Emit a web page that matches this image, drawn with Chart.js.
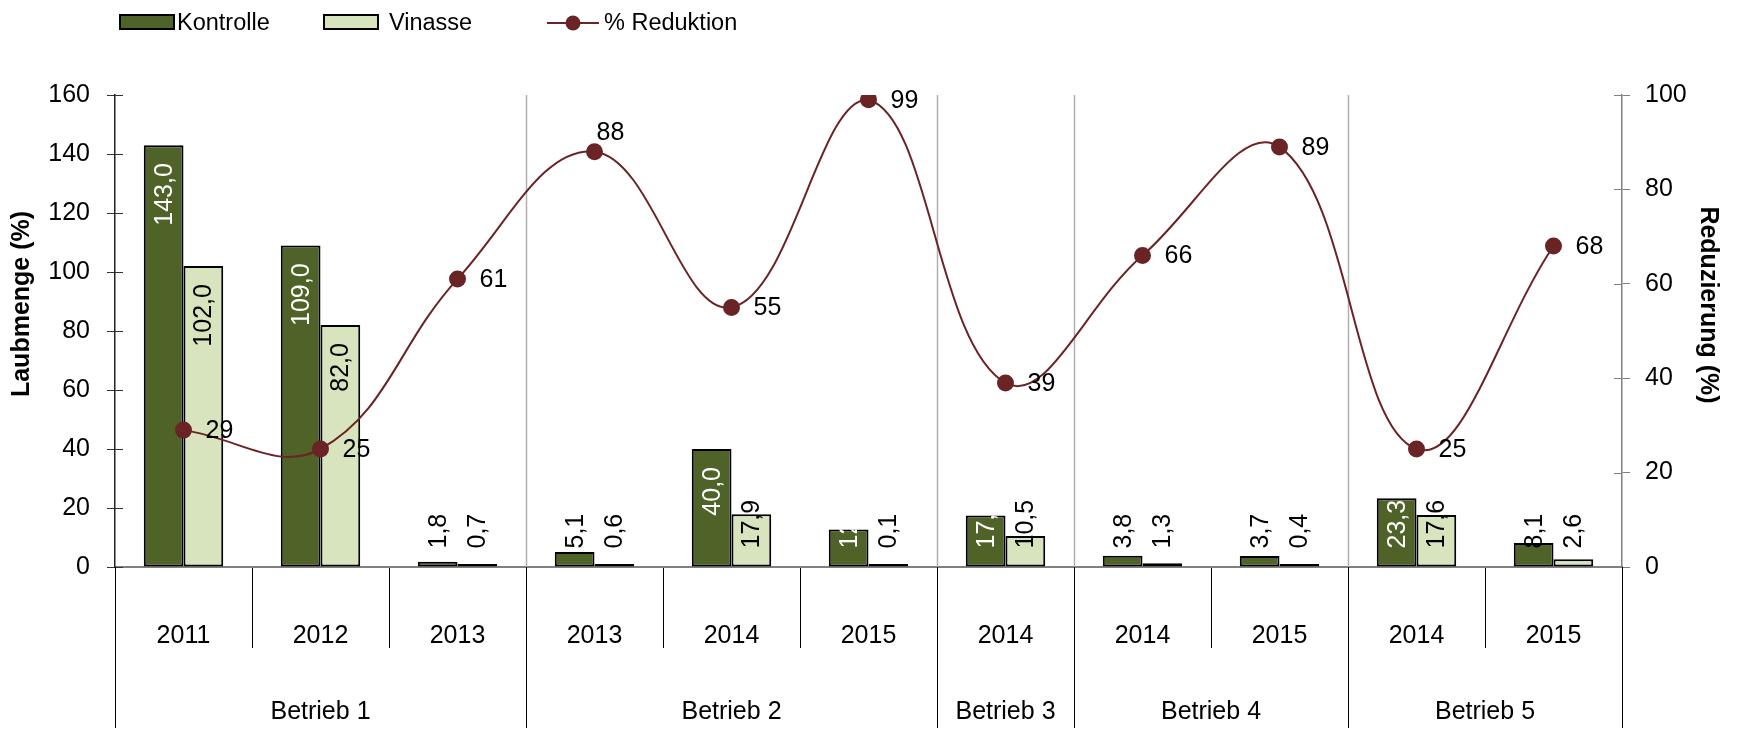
<!DOCTYPE html>
<html><head><meta charset="utf-8">
<script src="https://cdn.jsdelivr.net/npm/chart.js@4"></script>
<style>html,body{margin:0;padding:0;background:#fff}#wrap{width:1739px;height:735px}</style>
</head><body><div id="wrap"><canvas id="c" width="1739" height="735"></canvas></div>
<script>
const years = ['2011','2012','2013','2013','2014','2015','2014','2014','2015','2014','2015'];
const betriebe = ['Betrieb 1','Betrieb 2','Betrieb 3','Betrieb 4','Betrieb 5'];
const betriebSizes = [3,3,1,2,2];
const kontrolle = [143.0,109.0,1.8,5.1,40.0,12.7,17.5,3.8,3.7,23.3,8.1];
const vinasse = [102.0,82.0,0.7,0.6,17.9,0.1,10.5,1.3,0.4,17.6,2.6];
const reduktion = [29,25,61,88,55,99,39,66,89,25,68];
const leftTitle = 'Laubmenge (%)';
const rightTitle = 'Reduzierung (%)';

const FONT = '"Liberation Sans", Arial, sans-serif';
const C_K = '#4F6228', C_V = '#D7E4BD', C_L = '#6B2426';
const FS = 25;
Chart.defaults.font.family = FONT;
Chart.defaults.font.size = FS;
Chart.defaults.color = '#000';

const labelAbove = [3];

const deco = {
  id: 'deco',
  beforeDatasetsDraw(chart) {
    const {ctx, chartArea: a, scales: {x}} = chart;
    ctx.save();
    ctx.strokeStyle = '#b0b0b0'; ctx.lineWidth = 1.5;
    let idx = 0;
    for (let g = 0; g < betriebSizes.length - 1; g++) {
      idx += betriebSizes[g];
      const px = Math.round((x.getPixelForValue(idx - 1) + x.getPixelForValue(idx)) / 2) + 0.5;
      ctx.beginPath(); ctx.moveTo(px, a.top); ctx.lineTo(px, a.bottom); ctx.stroke();
    }
    ctx.restore();
  },
  afterDatasetsDraw(chart) {
    const {ctx} = chart;
    ctx.save();
    ctx.font = `${FS}px ${FONT}`;
    [0, 1].forEach(di => {
      const meta = chart.getDatasetMeta(di);
      const vals = chart.data.datasets[di].data;
      meta.data.forEach((bar, i) => {
        const v = vals[i];
        const txt = v.toFixed(1).replace('.', ',');
        const tw = ctx.measureText(txt).width;
        const top = bar.y, base = bar.base;
        const textTop = Math.min(top + 18, base - 18 - tw);
        const white = di === 0 && v >= 10;
        ctx.save();
        if (white) {
          ctx.beginPath();
          ctx.rect(bar.x - bar.width / 2, top, bar.width, base - top);
          ctx.clip();
        }
        ctx.translate(bar.x + 1, textTop + tw);
        ctx.rotate(-Math.PI / 2);
        ctx.textAlign = 'left'; ctx.textBaseline = 'middle';
        ctx.fillStyle = white ? '#fff' : '#000';
        ctx.fillText(txt, 0, 0);
        ctx.restore();
      });
    });
    const lm = chart.getDatasetMeta(2);
    lm.data.forEach((pt, i) => {
      const txt = String(reduktion[i]);
      ctx.fillStyle = '#000';
      if (labelAbove.includes(i)) {
        ctx.textAlign = 'center'; ctx.textBaseline = 'alphabetic';
        ctx.fillText(txt, pt.x + 16, pt.y - 12);
      } else {
        ctx.textAlign = 'left'; ctx.textBaseline = 'middle';
        ctx.fillText(txt, pt.x + 22, pt.y + 1);
      }
    });
    ctx.restore();
  },
  afterDraw(chart) {
    const {ctx, chartArea: a, scales: {x, y, y1}} = chart;
    ctx.save();
    ctx.lineWidth = 1;
    ctx.strokeStyle = '#333';
    y.ticks.forEach(t => {
      const py = Math.round(y.getPixelForValue(t.value)) + 0.5;
      ctx.beginPath(); ctx.moveTo(a.left, py); ctx.lineTo(a.left + 8, py); ctx.stroke();
    });
    ctx.strokeStyle = '#808080';
    y1.ticks.forEach(t => {
      const py = Math.round(y1.getPixelForValue(t.value)) + 0.5;
      ctx.beginPath(); ctx.moveTo(a.right - 8, py); ctx.lineTo(a.right, py); ctx.stroke();
    });
    ctx.strokeStyle = '#000';
    const half = (x.getPixelForValue(1) - x.getPixelForValue(0)) / 2;
    let start = 0;
    const edges = [x.getPixelForValue(0) - half];
    betriebSizes.forEach(s => { start += s; edges.push(x.getPixelForValue(start - 1) + half); });
    edges.forEach(e => {
      const px = Math.round(e) + 0.5;
      ctx.beginPath(); ctx.moveTo(px, a.bottom); ctx.lineTo(px, 728); ctx.stroke();
    });
    ctx.font = `${FS}px ${FONT}`;
    ctx.fillStyle = '#000'; ctx.textAlign = 'center'; ctx.textBaseline = 'middle';
    betriebe.forEach((b, g) => ctx.fillText(b, (edges[g] + edges[g + 1]) / 2, 712));
    ctx.font = `bold 25px ${FONT}`;
    ctx.save(); ctx.translate(22, 304); ctx.rotate(-Math.PI / 2);
    ctx.fillText(leftTitle, 0, 0); ctx.restore();
    ctx.save(); ctx.translate(1708, 305); ctx.rotate(Math.PI / 2);
    ctx.fillText(rightTitle, 0, 0); ctx.restore();
    const ds = chart.data.datasets;
    ctx.font = `23.5px ${FONT}`;
    ctx.textAlign = 'left'; ctx.textBaseline = 'middle';
    ctx.lineWidth = 2; ctx.strokeStyle = '#000';
    ctx.fillStyle = ds[0].backgroundColor; ctx.fillRect(120, 15, 54, 14); ctx.strokeRect(120, 15, 54, 14);
    ctx.fillStyle = '#000'; ctx.fillText(ds[0].label, 177, 24);
    ctx.fillStyle = ds[1].backgroundColor; ctx.fillRect(324, 15, 54, 14); ctx.strokeRect(324, 15, 54, 14);
    ctx.fillStyle = '#000'; ctx.fillText(ds[1].label, 389, 24);
    ctx.strokeStyle = ds[2].borderColor; ctx.lineWidth = 2;
    ctx.beginPath(); ctx.moveTo(547, 23); ctx.lineTo(599, 23); ctx.stroke();
    ctx.fillStyle = ds[2].borderColor;
    ctx.beginPath(); ctx.arc(573, 23, 7.5, 0, Math.PI * 2); ctx.fill();
    ctx.fillStyle = '#000'; ctx.fillText(ds[2].label, 604, 24);
    ctx.restore();
  }
};

new Chart(document.getElementById('c'), {
  data: {
    labels: years,
    datasets: [
      { type: 'bar', label: 'Kontrolle', data: kontrolle, yAxisID: 'y', backgroundColor: C_K, borderColor: '#000', borderWidth: 2, borderSkipped: false, minBarLength: 3, categoryPercentage: 0.58, barPercentage: 1.0, order: 2 },
      { type: 'bar', label: 'Vinasse', data: vinasse, yAxisID: 'y', backgroundColor: C_V, borderColor: '#000', borderWidth: 2, borderSkipped: false, minBarLength: 3, categoryPercentage: 0.58, barPercentage: 1.0, order: 2 },
      { type: 'line', label: '% Reduktion', data: reduktion, yAxisID: 'y1', borderColor: C_L, backgroundColor: C_L, borderWidth: 2, pointRadius: 7.5, pointBackgroundColor: C_L, pointBorderColor: C_L, tension: 0.4, order: 0 }
    ]
  },
  options: {
    responsive: false,
    animation: false,
    devicePixelRatio: 1,
    layout: { padding: { top: 95, left: 0, right: 0, bottom: 0 } },
    plugins: { legend: { display: false }, tooltip: { enabled: false } },
    scales: {
      x: {
        type: 'category', offset: true,
        grid: { offset: true, drawOnChartArea: false, drawTicks: true, tickLength: 81, color: '#000', lineWidth: 1 },
        border: { color: '#808080', width: 2 },
        ticks: { font: { size: FS }, color: '#000', padding: -27, maxRotation: 0, autoSkip: false },
        afterFit(s) { s.height = 168; }
      },
      y: {
        position: 'left', min: 0, max: 160,
        ticks: { stepSize: 20, font: { size: FS }, color: '#000', padding: 17 },
        grid: { drawOnChartArea: false, tickLength: 8, color: '#333', lineWidth: 1 },
        border: { color: '#222', width: 1.5 },
        afterFit(s) { s.width = 115; }
      },
      y1: {
        position: 'right', min: 0, max: 100,
        ticks: { stepSize: 20, font: { size: FS }, color: '#000', padding: 15 },
        grid: { drawOnChartArea: false, tickLength: 8, color: '#808080', lineWidth: 1 },
        border: { color: '#808080', width: 1.5 },
        afterFit(s) { s.width = 117; }
      }
    }
  },
  plugins: [deco]
});
</script>
</body></html>
